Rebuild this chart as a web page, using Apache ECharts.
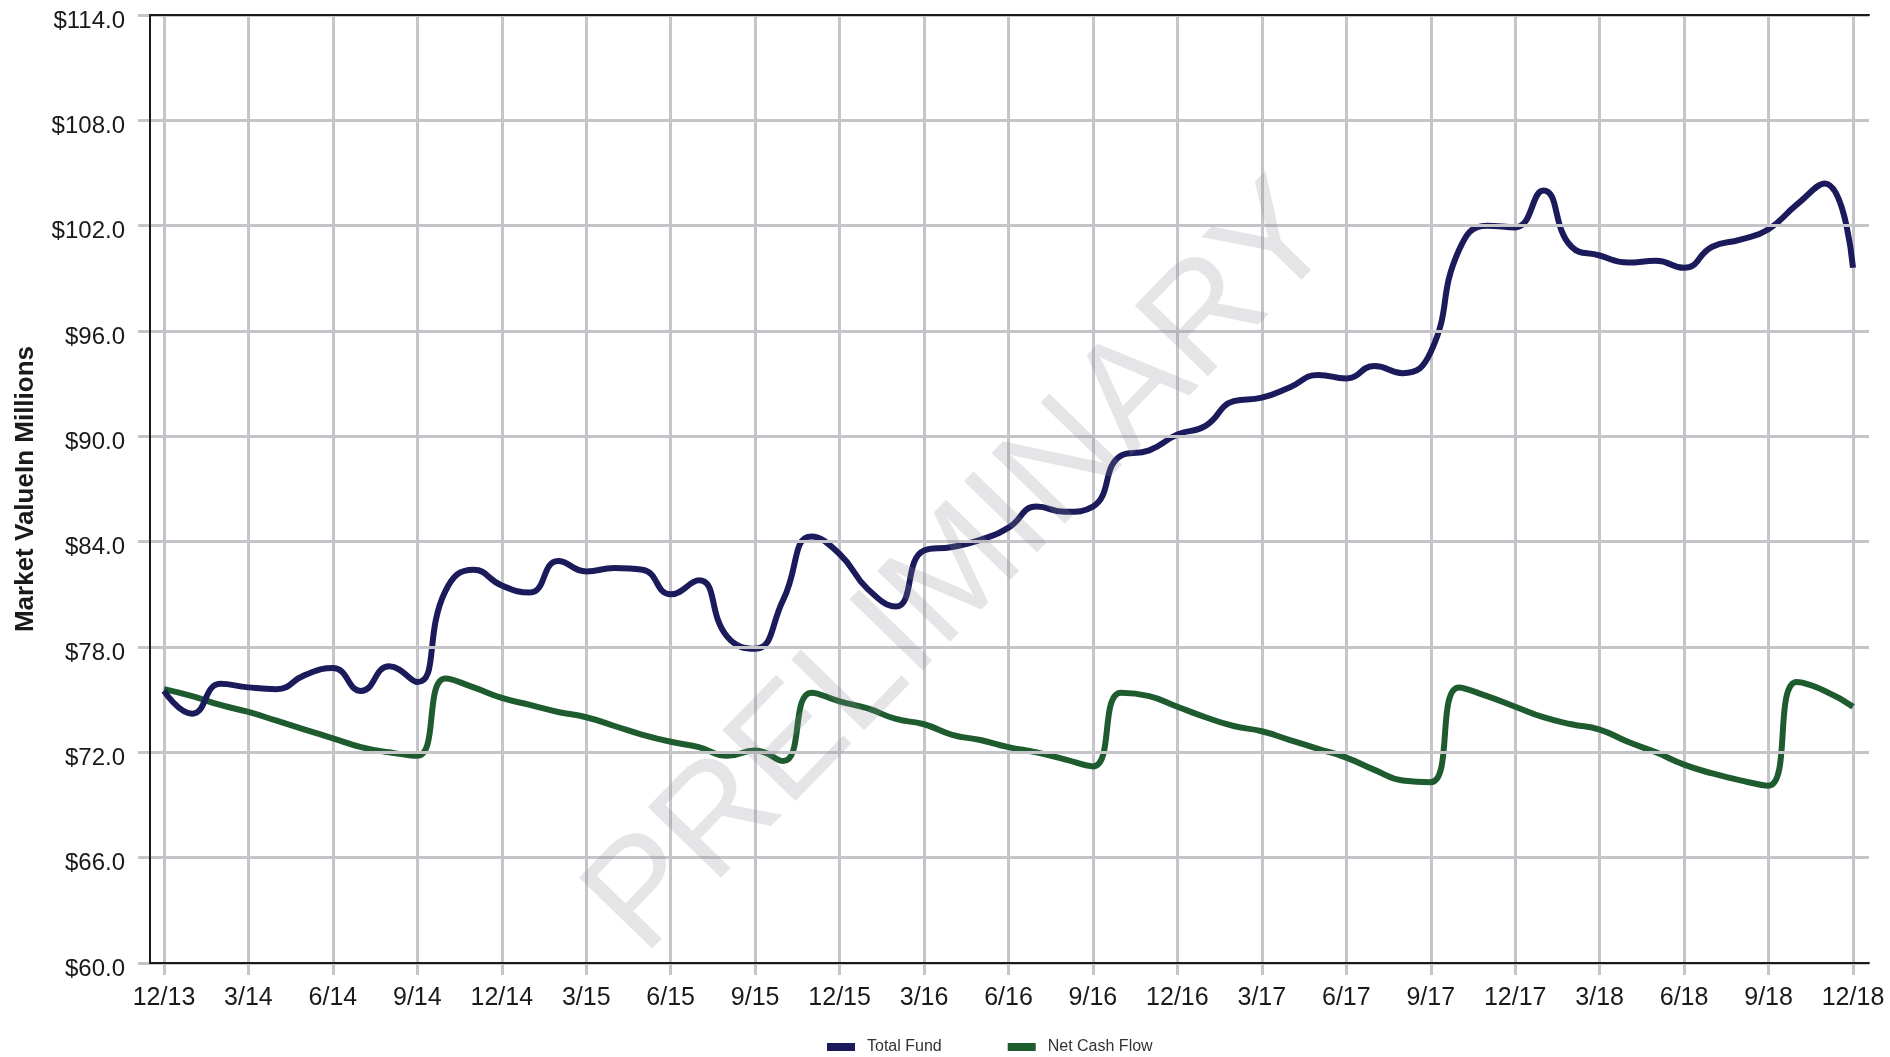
<!DOCTYPE html>
<html>
<head>
<meta charset="utf-8">
<script src="https://cdn.jsdelivr.net/npm/echarts@6/dist/echarts.min.js"></script>
<style>
  html, body { margin: 0; padding: 0; background: #fff; }
  #chart { width: 1890px; height: 1057px; }
</style>
</head>
<body>
<div id="chart"></div>
<script>
const months = [
  '12/13', '1/14', '2/14', '3/14', '4/14', '5/14', '6/14', '7/14', '8/14', '9/14', '10/14', '11/14',
  '12/14', '1/15', '2/15', '3/15', '4/15', '5/15', '6/15', '7/15', '8/15', '9/15', '10/15', '11/15',
  '12/15', '1/16', '2/16', '3/16', '4/16', '5/16', '6/16', '7/16', '8/16', '9/16', '10/16', '11/16',
  '12/16', '1/17', '2/17', '3/17', '4/17', '5/17', '6/17', '7/17', '8/17', '9/17', '10/17', '11/17',
  '12/17', '1/18', '2/18', '3/18', '4/18', '5/18', '6/18', '7/18', '8/18', '9/18', '10/18', '11/18',
  '12/18'
];

// market value, $ millions
const totalFund = [
  75.5, 74.2, 75.9, 75.7, 75.6, 76.4, 76.8, 75.5, 76.9, 76.0, 81.2, 82.4,
  81.5, 81.1, 82.9, 82.3, 82.5, 82.4, 81.0, 81.8, 78.6, 77.9, 80.7, 84.3,
  83.3, 81.3, 80.3, 83.5, 83.7, 84.1, 84.8, 86.0, 85.7, 86.0, 88.9, 89.2,
  90.1, 90.6, 92.0, 92.2, 92.8, 93.5, 93.3, 94.0, 93.6, 94.8, 100.6, 102.0,
  101.9, 104.0, 100.8, 100.3, 99.9, 100.0, 99.6, 100.8, 101.2, 101.8, 103.2, 104.4,
  99.6
];

const netCashFlow = [
  75.6, 75.2, 74.7, 74.3, 73.8, 73.3, 72.8, 72.3, 72.0, 71.8, 76.2, 75.7,
  75.1, 74.7, 74.3, 74.0, 73.5, 73.0, 72.6, 72.3, 71.8, 72.1, 71.5, 75.4,
  74.9, 74.5, 73.9, 73.6, 73.0, 72.7, 72.3, 72.0, 71.6, 71.2, 75.4, 75.2,
  74.6, 74.0, 73.5, 73.2, 72.7, 72.2, 71.7, 71.0, 70.4, 70.3, 75.7, 75.2,
  74.6, 74.0, 73.6, 73.3, 72.6, 72.0, 71.3, 70.8, 70.4, 70.1, 76.0, 75.5,
  74.6
];

const yMin = 60, yMax = 114, yStep = 6;
const font = 'Liberation Sans, Arial, sans-serif';
const gridColor = '#c5c5c9';
const frame = { show: true, lineStyle: { color: '#1a1a1a', width: 2 } };

const chart = echarts.init(document.getElementById('chart'), null, { renderer: 'canvas' });

chart.setOption({
  animation: false,
  backgroundColor: '#fff',
  textStyle: { fontFamily: font },
  grid: [
    // frame + horizontal grid
    { left: 150, right: 21, top: 15, bottom: 94, containLabel: false },
    // data area
    { left: 164, right: 37, top: 15, bottom: 94, containLabel: false }
  ],
  xAxis: [
    { gridIndex: 0, type: 'value', min: 0, max: 1, position: 'bottom', z: 10,
      axisLine: frame, axisTick: { show: false }, axisLabel: { show: false }, splitLine: { show: false } },
    {
      gridIndex: 1, type: 'category', data: months, boundaryGap: false,
      axisLine: { show: false },
      axisTick: { show: true, interval: 2, length: 12, lineStyle: { color: gridColor, width: 3 } },
      axisLabel: { interval: 2, margin: 23, color: '#1a1a1a', fontSize: 25, fontFamily: font },
      splitLine: { show: true, interval: 2, lineStyle: { color: gridColor, width: 3 } }
    },
    { gridIndex: 0, type: 'value', min: 0, max: 1, position: 'top', z: 10,
      axisLine: frame, axisTick: { show: false }, axisLabel: { show: false }, splitLine: { show: false } }
  ],
  yAxis: [
    {
      gridIndex: 0, type: 'value', min: yMin, max: yMax, interval: yStep, z: 5,
      axisLine: frame,
      axisTick: { show: true, length: 12, lineStyle: { color: gridColor, width: 3 } },
      axisLabel: { margin: 25, color: '#1a1a1a', fontSize: 24, fontFamily: font,
        verticalAlign: 'top', lineHeight: 12,
        formatter: v => '$' + v.toFixed(1) },
      splitLine: { show: true, lineStyle: { color: gridColor, width: 3 } },
      name: 'Market ValueIn Millions', nameLocation: 'middle', nameGap: 111, nameRotate: 90,
      nameTextStyle: { fontSize: 26, fontWeight: 'bold', color: '#1a1a1a', fontFamily: font }
    },
    { gridIndex: 1, type: 'value', min: yMin, max: yMax, show: false, splitLine: { show: false } },
    { gridIndex: 0, type: 'value', min: yMin, max: yMax, position: 'right', z: 10,
      axisLine: frame, axisTick: { show: false }, axisLabel: { show: false }, splitLine: { show: false } }
  ],
  legend: {
    left: 827, top: 1039, padding: 0, icon: 'rect', itemWidth: 28, itemHeight: 8, itemGap: 66,
    textStyle: { fontSize: 16, color: '#333', fontFamily: font, padding: [0, 0, 0, 7] },
    data: ['Total Fund', 'Net Cash Flow']
  },
  series: [
    {
      name: 'Total Fund', type: 'line', xAxisIndex: 1, yAxisIndex: 1,
      data: totalFund, smooth: 0.5, showSymbol: false, symbol: 'none',
      lineStyle: { color: '#1b1b5c', width: 6 }, itemStyle: { color: '#1b1b5c' }, z: 3
    },
    {
      name: 'Net Cash Flow', type: 'line', xAxisIndex: 1, yAxisIndex: 1,
      data: netCashFlow, smooth: 0.5, showSymbol: false, symbol: 'none',
      lineStyle: { color: '#1e5c2f', width: 6 }, itemStyle: { color: '#1e5c2f' }, z: 2
    }
  ],
  graphic: [
    {
      type: 'text', x: 963, y: 570, rotation: 0.80, z: 100, silent: true,
      style: {
        text: 'PRELIMINARY', font: '148px Liberation Sans, Arial, sans-serif',
        fill: 'rgba(135,135,145,0.22)', align: 'center', verticalAlign: 'middle'
      }
    }
  ]
});
</script>
</body>
</html>
